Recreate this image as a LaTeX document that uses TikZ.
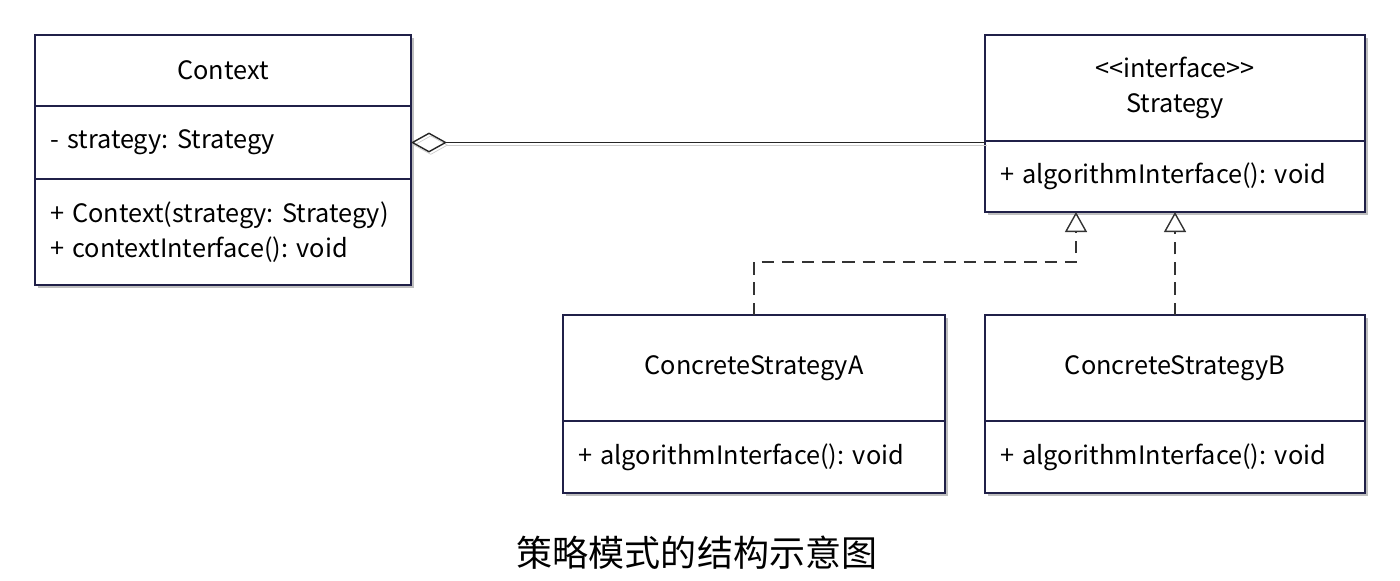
\documentclass[tikz,border=0pt]{standalone}
\usepackage{fontspec}
\setmainfont{Noto Sans CJK SC}
\usetikzlibrary{shapes,arrows.meta,positioning,shadows}
\definecolor{umlline}{RGB}{32,32,72}
\frenchspacing

\begin{document}
\begin{tikzpicture}[
  classhead/.style={rectangle,draw=umlline,line width=0.9pt,fill=white,outer sep=0pt,inner sep=0pt,
    drop shadow={shadow xshift=1.5pt,shadow yshift=-1.5pt,fill=black!25,opacity=1},
    align=center,font=\fontsize{14.4}{19.9}\selectfont},
  classbody/.style={classhead,align=left,inner xsep=0.3cm,text width=#1},
  aggr/.style={{Diamond[open,length=0.72cm,width=0.4cm]}-,line width=0.8pt,draw=black!85,
    preaction={draw=black!20,transform canvas={xshift=1pt,yshift=-1.5pt}}},
  realize/.style={-{Triangle[open,length=0.4cm,width=0.44cm]},line width=0.8pt,draw=black!80,dash pattern=on 7pt off 4.5pt},
  node distance=0pt
]
\useasboundingbox (0,0) rectangle (28,-11.6);
% Context
\node[classhead,anchor=north west,minimum width=7.52cm,minimum height=1.42cm] (ctxname) at (0.70,-0.70) {Context};
\node[classbody=6.92cm,minimum height=1.46cm,below=of ctxname] (ctxattr) {- strategy: Strategy};
\node[classbody=6.92cm,minimum height=2.12cm,below=of ctxattr] (ctxops) {+ Context(strategy: Strategy)\\+ contextInterface(): void};
% Strategy
\node[classhead,anchor=north west,minimum width=7.60cm,minimum height=2.12cm] (stratname) at (19.70,-0.70) {<{}<interface>{}>\\Strategy};
\node[classbody=7.00cm,minimum height=1.42cm,below=of stratname] (stratops) {+ algorithmInterface(): void};
% ConcreteStrategyA
\node[classhead,anchor=north west,minimum width=7.64cm,minimum height=2.12cm] (anamed) at (11.26,-6.30) {ConcreteStrategyA};
\node[classbody=7.04cm,minimum height=1.44cm,below=of anamed] (aops) {+ algorithmInterface(): void};
% ConcreteStrategyB
\node[classhead,anchor=north west,minimum width=7.60cm,minimum height=2.12cm] (bnamed) at (19.70,-6.30) {ConcreteStrategyB};
\node[classbody=7.00cm,minimum height=1.44cm,below=of bnamed] (bops) {+ algorithmInterface(): void};

\coordinate (realA) at ([xshift=-1.98cm]stratops.south);
\draw[aggr] (ctxattr.east) -- (ctxattr.east -| stratname.west);
\draw[realize] (anamed.north) -- ++(0,1.06) -| (realA);
\draw[realize] (bnamed.north) -- (bnamed.north |- stratops.south);

\node[font=\fontsize{20.5}{24}\selectfont] (caption) at (13.94,-11.06) {策略模式的结构示意图};
\end{tikzpicture}
\end{document}
